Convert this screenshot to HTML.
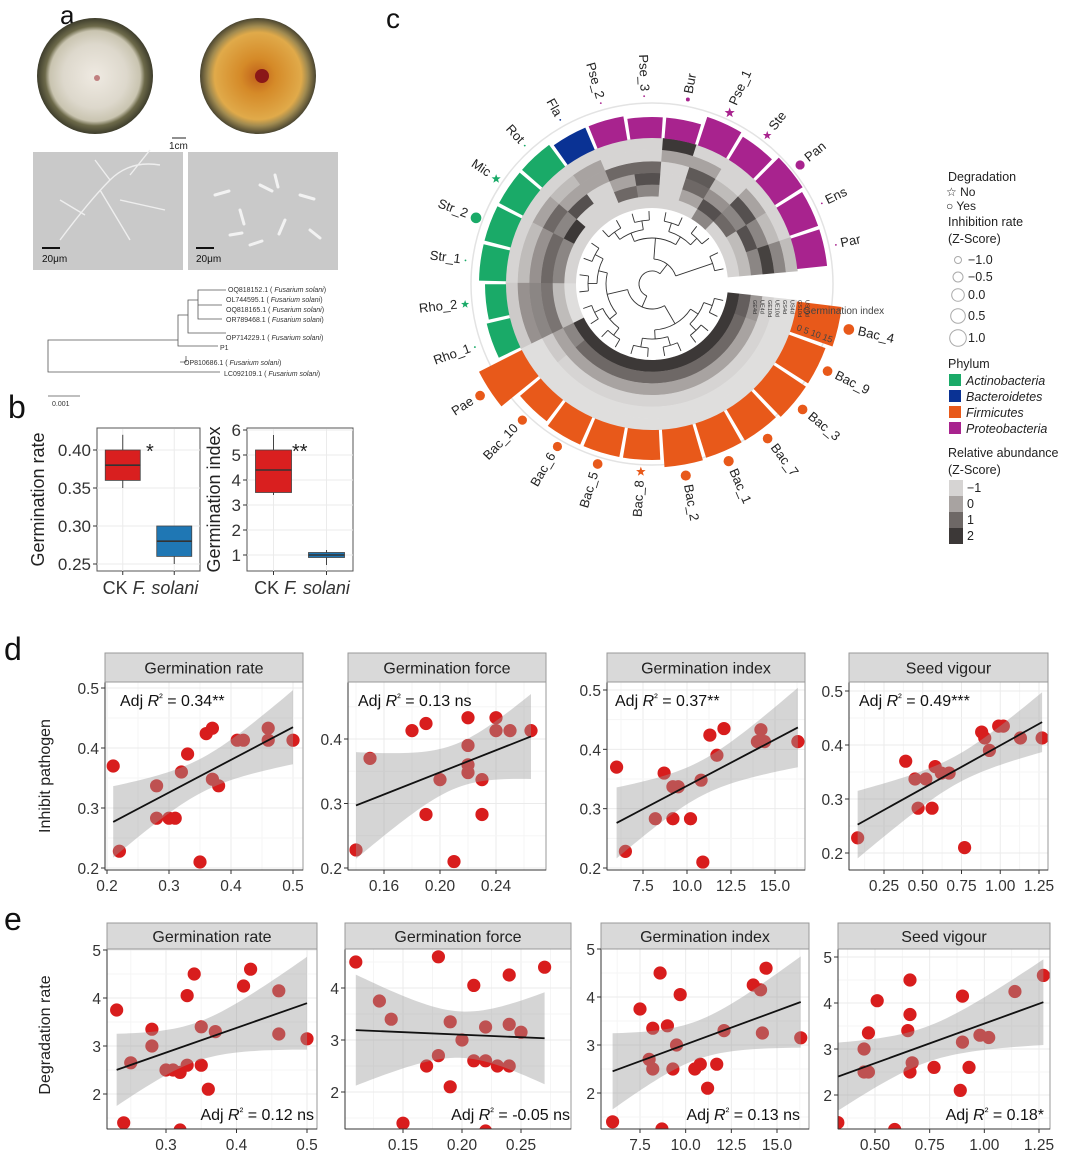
<!DOCTYPE html>
<html><head><meta charset="utf-8"><style>
html,body{margin:0;padding:0;background:#fff}
svg{display:block;font-family:"Liberation Sans",Arial,sans-serif}
</style></head><body>
<svg id="fig" width="1070" height="1168" viewBox="0 0 1070 1168" xmlns="http://www.w3.org/2000/svg">
<defs>
<radialGradient id="dish1" cx="50%" cy="50%" r="50%">
<stop offset="0" stop-color="#efeae2"/><stop offset="0.55" stop-color="#ddd8cc"/><stop offset="0.78" stop-color="#c9c4b0"/><stop offset="0.86" stop-color="#6d6a4a"/><stop offset="1" stop-color="#3e3d2c"/></radialGradient>
<radialGradient id="dish2" cx="50%" cy="50%" r="50%">
<stop offset="0" stop-color="#c0601a"/><stop offset="0.3" stop-color="#d58a28"/><stop offset="0.75" stop-color="#e0aa4a"/><stop offset="0.86" stop-color="#a08a50"/><stop offset="1" stop-color="#4a4530"/></radialGradient>
</defs>
<!-- panel a -->
<g>
<text x="60" y="24" font-size="26" fill="#111">a</text>
<circle cx="95" cy="76" r="58" fill="url(#dish1)"/>
<circle cx="97" cy="78" r="3" fill="#c08080"/>
<circle cx="258" cy="76" r="58" fill="url(#dish2)"/>
<circle cx="262" cy="76" r="7" fill="#8a1818"/>
<line x1="172" y1="138" x2="186" y2="138" stroke="#222" stroke-width="1"/>
<text x="169" y="149" font-size="10" fill="#222">1cm</text>
<rect x="33" y="152" width="150" height="118" fill="#c9c9c9"/>
<path d="M60 240 Q90 200 110 180 T160 165 M100 190 L130 240 M110 180 L95 160 M120 200 L165 210 M85 215 L60 200 M130 175 L150 150" stroke="#eee" stroke-width="1.4" fill="none"/>
<rect x="188" y="152" width="150" height="118" fill="#c9c9c9"/>
<path d="M215 195 l14 -4 M240 210 l4 14 M260 185 l12 6 M285 220 l-6 14 M300 195 l14 4 M230 235 l12 -2 M275 175 l3 12 M310 230 l10 8 M250 245 l12 -4" stroke="#f2f2f2" stroke-width="3" stroke-linecap="round"/>
<line x1="42" y1="248" x2="60" y2="248" stroke="#111" stroke-width="2"/>
<text x="42" y="262" font-size="10" fill="#111">20μm</text>
<line x1="196" y1="248" x2="214" y2="248" stroke="#111" stroke-width="2"/>
<text x="196" y="262" font-size="10" fill="#111">20μm</text>
<g stroke="#555" stroke-width="0.8" fill="none">
<path d="M48 356 V340 H178 M48 356 V372 H220 M178 340 V315 H188 M178 340 V346 H218 M188 315 V300 H198 M188 315 V333 H226 M198 300 V290 H226 M198 300 V305 H222 M198 300 V319 H222 M186 356 V362 H180"/>
</g>
<g font-size="7" fill="#333">
<text x="228" y="292">OQ818152.1 ( <tspan font-style="italic">Fusarium solani</tspan>)</text>
<text x="226" y="302">OL744595.1 ( <tspan font-style="italic">Fusarium solani</tspan>)</text>
<text x="226" y="312">OQ818165.1 ( <tspan font-style="italic">Fusarium solani</tspan>)</text>
<text x="226" y="322">OR789468.1 ( <tspan font-style="italic">Fusarium solani</tspan>)</text>
<text x="226" y="340">OP714229.1 ( <tspan font-style="italic">Fusarium solani</tspan>)</text>
<text x="220" y="350">P1</text>
<text x="184" y="365">OP810686.1 ( <tspan font-style="italic">Fusarium solani</tspan>)</text>
<text x="224" y="376">LC092109.1 ( <tspan font-style="italic">Fusarium solani</tspan>)</text>
</g>
<line x1="48" y1="396" x2="80" y2="396" stroke="#555" stroke-width="0.8"/>
<text x="52" y="406" font-size="7" fill="#333">0.001</text>
</g>
<g id="panelB"></g>
<g id="panelC"></g>
<g id="panelD"></g>
<g id="panelE"></g>
</svg>
<script>
// ---------- Panel b data ----------
const bGroups = ["CK", "F. solani"];
const bRateStats = [[0.35,0.36,0.38,0.40,0.42],[0.25,0.26,0.28,0.30,0.30]];
const bIndexStats = [[3.4,3.5,4.4,5.2,5.8],[0.6,0.9,1.0,1.1,1.2]];
const bRateTicks = [0.25,0.30,0.35,0.40];
const bIndexTicks = [1,2,3,4,5,6];

// ---------- Panel c data ----------
const cTaxa = ["Bac_4","Bac_9","Bac_3","Bac_7","Bac_1","Bac_2","Bac_8","Bac_5","Bac_6","Bac_10","Pae","Rho_1","Rho_2","Str_1","Str_2","Mic","Rot","Fla","Pse_2","Pse_3","Bur","Pse_1","Ste","Pan","Ens","Par"];
const cPhylum = ["F","F","F","F","F","F","F","F","F","F","F","A","A","A","A","A","A","B","P","P","P","P","P","P","P","P"];
const cGermIndex = [15,13,13,12,12,12.5,10,10,10,9,16,8,7,9,9,9,9,8,8,7,7,10,9,11,10,10];
const cDegradNo = ["Rho_2","Mic","Pse_1","Ste","Bac_8"];
const cInhibition = [0.8,0.6,0.6,0.6,0.7,0.7,0.5,0.6,0.5,0.5,0.6,-1.2,0.2,-1.2,0.8,0.4,-1.2,-1.2,-1.2,-1.2,-0.6,0.6,0.3,0.5,-1.2,-1.2];
const cHeat = [
[2,1.2,0.2,-1,-1.2,-1.2],[2,1,0,-1,-1.2,-1.2],[2,1,0,-1,-1.2,-1.2],[2,1,0,-1,-1.2,-1.2],[2,1,0,-1,-1.2,-1.2],[2,1,0,-1,-1.2,-1.2],
[2,1,0,-1,-1.2,-1.2],[2,1,0,-1,-1.2,-1.2],[2,1,0,-1,-1.2,-1.2],[2,1,0,-1,-1.2,-1.2],[2,0.5,0,-0.8,-1.2,-1.2],
[-1.2,-0.5,0.8,0.5,0.3,-0.8],[-1.2,-0.5,0.8,0.5,0.3,-0.8],[-1,0.5,1,0.3,-0.5,-1],[-1,0.5,1,0.3,-0.5,-1],[-1,2,0.5,1,0,-1],
[-1,-1,1.5,0,-0.5,-1],[-1,-1,-1,0,0,-1],[-1,1,0,1,-1,-1],[-1,0.5,1.5,1,-1,-1],[-1,-1,-1,-1,0,2],
[-1,0,1,1.3,0,-1],[0.5,1.5,0.3,-0.5,-1,-1],[-1,1,0.5,1.5,0,-1],[-1,-0.5,1.5,0.5,-0.5,-1],[-1,-0.5,0.5,1.8,0.5,-0.5]];

// ---------- Panel d data ----------
const dRateX = [0.21,0.22,0.28,0.28,0.30,0.31,0.32,0.33,0.35,0.36,0.37,0.37,0.38,0.41,0.42,0.46,0.46,0.50];
const dRateY = [0.37,0.228,0.337,0.283,0.283,0.283,0.36,0.39,0.21,0.424,0.433,0.348,0.337,0.413,0.413,0.433,0.413,0.413];
const dForceX = [0.14,0.15,0.18,0.19,0.19,0.20,0.21,0.22,0.22,0.22,0.22,0.23,0.23,0.24,0.24,0.25,0.265];
const dForceY = [0.228,0.37,0.413,0.424,0.283,0.337,0.21,0.433,0.39,0.36,0.348,0.337,0.283,0.433,0.413,0.413,0.413];
const dIndexX = [6.0,6.5,8.2,8.7,9.2,9.5,9.2,10.2,10.8,10.9,11.3,11.7,12.1,14.0,14.2,14.4,16.3];
const dIndexY = [0.37,0.228,0.283,0.36,0.337,0.337,0.283,0.283,0.348,0.21,0.424,0.39,0.435,0.413,0.433,0.413,0.413];
const dVigX = [0.08,0.39,0.45,0.47,0.52,0.56,0.58,0.62,0.67,0.77,0.88,0.90,0.93,0.99,1.02,1.13,1.27];
const dVigY = [0.228,0.37,0.337,0.283,0.337,0.283,0.36,0.348,0.348,0.21,0.424,0.413,0.39,0.435,0.435,0.413,0.413];
const dRateXTicks=[0.2,0.3,0.4,0.5], dForceXTicks=[0.16,0.20,0.24], dIndexXTicks=[7.5,10.0,12.5,15.0], dVigXTicks=[0.25,0.50,0.75,1.00,1.25];
const dYTicks=[0.2,0.3,0.4,0.5], dForceYTicks=[0.2,0.3,0.4];
const dLabels=["Adj R² = 0.34**","Adj R² = 0.13 ns","Adj R² = 0.37**","Adj R² = 0.49***"];

// ---------- Panel e data ----------
const eRateX=[0.23,0.24,0.25,0.28,0.28,0.30,0.31,0.32,0.32,0.33,0.33,0.34,0.35,0.35,0.36,0.37,0.41,0.42,0.46,0.46,0.50];
const eRateY=[3.75,1.4,2.65,3.35,3.0,2.5,2.5,2.45,1.25,2.6,4.05,4.5,3.4,2.6,2.1,3.3,4.25,4.6,4.15,3.25,3.15];
const eForceX=[0.11,0.13,0.14,0.15,0.17,0.18,0.18,0.19,0.19,0.20,0.21,0.21,0.22,0.22,0.22,0.23,0.24,0.24,0.24,0.25,0.27];
const eForceY=[4.5,3.75,3.4,1.4,2.5,4.6,2.7,3.35,2.1,3.0,4.05,2.6,2.6,3.25,1.25,2.5,4.25,2.5,3.3,3.15,4.4];
const eIndexX=[6.0,7.5,8.0,8.2,8.2,8.6,8.7,9.0,9.3,9.5,9.7,10.5,10.8,11.2,11.7,12.1,13.7,14.1,14.2,14.4,16.3];
const eIndexY=[1.4,3.75,2.7,3.35,2.5,4.5,1.25,3.4,2.5,3.0,4.05,2.5,2.6,2.1,2.6,3.3,4.25,4.15,3.25,4.6,3.15];
const eVigX=[0.33,0.45,0.45,0.47,0.47,0.51,0.59,0.65,0.66,0.66,0.66,0.67,0.77,0.89,0.90,0.90,0.93,0.98,1.02,1.14,1.27];
const eVigY=[1.4,3.0,2.5,3.35,2.5,4.05,1.25,3.4,4.5,3.75,2.5,2.7,2.6,2.1,3.15,4.15,2.6,3.3,3.25,4.25,4.6];
const eRateXTicks=[0.3,0.4,0.5], eForceXTicks=[0.15,0.20,0.25], eIndexXTicks=[7.5,10.0,12.5,15.0], eVigXTicks=[0.50,0.75,1.00,1.25];
const eYTicks=[2,3,4,5], eForceYTicks=[2,3,4];
const eLabels=["Adj R² = 0.12 ns","Adj R² = -0.05 ns","Adj R² = 0.13 ns","Adj R² = 0.18*"];

const NS="http://www.w3.org/2000/svg";
function mk(parent,tag,attrs,txt){const e=document.createElementNS(NS,tag);for(const k in attrs)e.setAttribute(k,attrs[k]);if(txt!==undefined)e.textContent=txt;parent.appendChild(e);return e;}
function lin(a,b){return v=>a[1]+(v-a[0])*(b[1]-a[1])/(b[0]-a[0]);}
function fmt(v,t){const s=String(t);const d=s.includes('.')?s.split('.')[1].length:0;return v.toFixed(d);}

// ---------- Panel b ----------
(function(){
const g=document.getElementById('panelB');
const lbl=mk(g,'text',{x:8,y:418,'font-size':32,fill:'#111'},'b');

function box(P,stats,ticks,yTitle,star,fills){
  const sy=lin(P.ya,P.yb);
  const gg=mk(g,'g',{});
  
  mk(gg,'rect',{x:P.l,y:P.t,width:P.r-P.l,height:P.b-P.t,fill:'#fff',stroke:'#555','stroke-width':1});
  ticks.forEach(t=>{const y=sy(t);
    mk(gg,'line',{x1:P.l,x2:P.r,y1:y,y2:y,stroke:'#ebebeb'});
    mk(gg,'line',{x1:P.l-4,x2:P.l,y1:y,y2:y,stroke:'#333'});
    const tl=mk(gg,'text',{x:P.l-6,y:y+6,'font-size':17,'text-anchor':'end',fill:'#333'},fmt(t,P.tfmt));
    });
  const w=(P.r-P.l);
  stats.forEach((s,i)=>{const cx=P.l+w*(0.25+0.5*i), bw=w*0.34;
    mk(gg,'line',{x1:cx,x2:cx,y1:P.t+1,y2:P.b,stroke:'#ebebeb'});
    const wl=mk(gg,'line',{x1:cx,x2:cx,y1:sy(s[0]),y2:sy(s[4]),stroke:'#444'});
    const rb=mk(gg,'rect',{x:cx-bw/2,y:sy(s[3]),width:bw,height:sy(s[1])-sy(s[3]),fill:fills[i],stroke:'#444','stroke-width':0.8});
    
    mk(gg,'line',{x1:cx-bw/2,x2:cx+bw/2,y1:sy(s[2]),y2:sy(s[2]),stroke:'#333','stroke-width':1.6});
    mk(gg,'line',{x1:cx,x2:cx,y1:P.b,y2:P.b+4,stroke:'#333'});});
  const xl=mk(gg,'text',{x:(P.l+P.r)/2+2,y:P.b+23,'font-size':18,'text-anchor':'middle',fill:'#333'});
  
  mk(xl,'tspan',{},bGroups[0]+' ');mk(xl,'tspan',{'font-style':'italic'},bGroups[1]);
  const yt=mk(gg,'text',{transform:`translate(${P.yx},${(P.t+P.b)/2}) rotate(-90)`,'font-size':18,'text-anchor':'middle',fill:'#222'},yTitle);
  
  const st=mk(gg,'text',{x:P.sx,y:P.t+30,'font-size':20,fill:'#222'},star);
  
}
box({name:'boxplot-germination-rate',l:97,r:200,t:428,b:571,ya:[0.40,450],yb:[0.25,564],tfmt:'0.00',yx:44,sx:146},bRateStats,bRateTicks,'Germination rate','*',['#d91f1f','#1f77b4']);
box({name:'boxplot-germination-index',l:247,r:353,t:428,b:571,ya:[6,430],yb:[1,555],tfmt:'1',yx:220,sx:292},bIndexStats,bIndexTicks,'Germination index','**',['#d91f1f','#1f77b4']);
})();

// ---------- Panel c ----------
(function(){
const g=document.getElementById('panelC');
const lb=mk(g,'text',{x:386,y:28,'font-size':28,fill:'#111'},'c');

const cx=652, cy=284, rIn=76, rHeatOut=146, step=13.4, a0=13;
const phyCol={A:'#1aaa68',B:'#0a3294',F:'#e8591a',P:'#a8238e'};
const rad=d=>d*Math.PI/180;
const pt=(r,a)=>[cx+r*Math.cos(rad(a)),cy+r*Math.sin(rad(a))];
function sector(r1,r2,a1,a2){const p1=pt(r2,a1),p2=pt(r2,a2),p3=pt(r1,a2),p4=pt(r1,a1);const lg=(a2-a1)>180?1:0;
 return `M${p1[0]},${p1[1]} A${r2},${r2} 0 ${lg} 1 ${p2[0]},${p2[1]} L${p3[0]},${p3[1]} A${r1},${r1} 0 ${lg} 0 ${p4[0]},${p4[1]}Z`;}
function gray(v){const stops=[[-1.5,[236,236,236]],[-1,[214,212,211]],[0,[168,163,161]],[1,[110,104,102]],[2,[60,56,55]]];
 v=Math.max(-1.5,Math.min(2,v));for(let i=0;i<stops.length-1;i++){if(v<=stops[i+1][0]){const t=(v-stops[i][0])/(stops[i+1][0]-stops[i][0]);const c=stops[i][1].map((x,k)=>Math.round(x+t*(stops[i+1][1][k]-x)));return `rgb(${c})`;}}return 'rgb(60,56,55)';}
// outer circle
const oc=mk(g,'circle',{cx:cx,cy:cy,r:181,fill:'none',stroke:'#e3e3e3','stroke-width':1.5});

const ringW=(rHeatOut-rIn)/6;
cTaxa.forEach((name,i)=>{
 const ac=a0+i*step, a1=ac-step/2, a2=ac+step/2;
 cHeat[i].forEach((v,k)=>{const p=mk(g,'path',{d:sector(rIn+k*ringW,rIn+(k+1)*ringW+0.3,a1,a2+0.3),fill:gray(v)});
   });
 const rOut=rHeatOut+cGermIndex[i]*3;
 const bar=mk(g,'path',{d:sector(rHeatOut,rOut,a1+0.6,a2-0.6),fill:phyCol[cPhylum[i]]});
 
 const rm=Math.max(188,rOut+11);const mp=pt(rm,ac);
 const sz=Math.max(0.9,3.4+2.4*cInhibition[i]);
 if(cDegradNo.includes(name)){
   let d='';for(let k=0;k<10;k++){const rr=k%2?sz*0.45:sz*1.1;const aa=-90+k*36;d+=(k?'L':'M')+(mp[0]+rr*Math.cos(rad(aa)))+','+(mp[1]+rr*Math.sin(rad(aa)));}
   const s=mk(g,'path',{d:d+'Z',fill:phyCol[cPhylum[i]]});
 } else {const c=mk(g,'circle',{cx:mp[0],cy:mp[1],r:sz,fill:phyCol[cPhylum[i]]});}
 const rl=rm+sz+4;const lp=pt(rl,ac);
 let norm=((ac%360)+360)%360;const flip=norm>90&&norm<270;
 const t=mk(g,'text',{x:lp[0],y:lp[1],'font-size':13,fill:'#222','dominant-baseline':'middle','text-anchor':flip?'end':'start',transform:`rotate(${flip?ac-180:ac},${lp[0]},${lp[1]})`},name);
 
});
// dendrogram
const tree=mk(g,'g',{stroke:'#333','stroke-width':0.9,fill:'none'});

let nodes=cTaxa.map((n,i)=>({a:a0+i*step,r:rIn-3}));
let level=0;
while(nodes.length>1){const nr=(rIn-3)-(level+1)*(level<3?9:12);const nx=[];
 for(let i=0;i<nodes.length;i+=2){if(i+1<nodes.length){const A=nodes[i],B=nodes[i+1];
   [A,B].forEach(n=>{const p1=pt(n.r,n.a),p2=pt(Math.max(nr,4),n.a);mk(tree,'path',{d:`M${p1[0]},${p1[1]}L${p2[0]},${p2[1]}`});});
   const rr=Math.max(nr,4);const q1=pt(rr,A.a),q2=pt(rr,B.a);const lg=(B.a-A.a)>180?1:0;
   mk(tree,'path',{d:`M${q1[0]},${q1[1]}A${rr},${rr} 0 ${lg} 1 ${q2[0]},${q2[1]}`});
   nx.push({a:(A.a+B.a)/2,r:rr});} else nx.push(nodes[i]);}
 nodes=nx;level++;}
// center label
const gl=mk(g,'text',{x:803,y:314,'font-size':10,fill:'#444'},'Germination index');

const gt=mk(g,'text',{x:796,y:330,'font-size':9,fill:'#444',transform:'rotate(20,796,330)'},'0  5  10 15');

["GE4d","UE4d","GE10d","UE10d","GS4d","US4d","GS10d","US10d"].forEach((s,k)=>{const x=753+k*7.5;const t=mk(g,'text',{x:x,y:300,'font-size':5.5,fill:'#333',transform:`rotate(90,${x},300)`},s);});
// legend
const L=mk(g,'g',{'font-size':12.5,fill:'#222'});
const lt=(x,y,s,it)=>{const t=mk(L,'text',{x:x,y:y,'font-style':it?'italic':'normal'},s);return t;};
lt(948,181,'Degradation');lt(946,196,'☆ No').setAttribute('font-size','12');lt(946,210,'○ Yes').setAttribute('font-size','12');
lt(948,226,'Inhibition rate');lt(948,243,'(Z-Score)');
[['−1.0',264,3.5],['−0.5',281,5],[' 0.0',299,6.3],[' 0.5',320,7.3],[' 1.0',342,8.3]].forEach(([s,y,r])=>{mk(L,'circle',{cx:958,cy:y-4,r:r,fill:'none',stroke:'#aaa'});lt(968,y,s);});
lt(948,368,'Phylum');
[['Actinobacteria','A'],['Bacteroidetes','B'],['Firmicutes','F'],['Proteobacteria','P']].forEach(([s,k],j)=>{const y=385+j*16;const r=mk(L,'rect',{x:949,y:y-11,width:12,height:12,fill:phyCol[k]});lt(966,y,s,true);});
lt(948,457,'Relative abundance');lt(948,474,'(Z-Score)');
[-1,0,1,2].forEach((v,j)=>{const y=480+j*16;mk(L,'rect',{x:949,y:y,width:14,height:16,fill:gray(v)});lt(967,y+12,v===-1?'−1':String(v));});
})();

// ---------- scatter panels ----------
function regress(xs,ys){const n=xs.length;const mx=xs.reduce((a,b)=>a+b)/n,my=ys.reduce((a,b)=>a+b)/n;
 let sxx=0,sxy=0;xs.forEach((x,i)=>{sxx+=(x-mx)**2;sxy+=(x-mx)*(ys[i]-my);});const b=sxy/sxx,a=my-b*mx;
 let sse=0;xs.forEach((x,i)=>{sse+=(ys[i]-a-b*x)**2;});const s=Math.sqrt(sse/(n-2));return {a,b,mx,sxx,s,n};}
function scatter(parent,P,xs,ys,xt,yt,label){
 const sx=lin(P.xa,P.xb), sy=lin(P.ya,P.yb);
 const g=mk(parent,'g',{});
 const cid='clip'+P.name;const cp=mk(g,'clipPath',{id:cid});mk(cp,'rect',{x:P.l,y:P.t,width:P.r-P.l,height:P.b-P.t});
 mk(g,'rect',{x:P.l,y:P.t,width:P.r-P.l,height:P.b-P.t,fill:'#fff'});
 const gr=mk(g,'g',{'clip-path':`url(#${cid})`});
 const mid=(arr,f)=>{for(let i=0;i<arr.length-1;i++){const v=f((arr[i]+arr[i+1])/2);mk(gr,'line',P.h?{x1:P.l,x2:P.r,y1:v,y2:v,stroke:'#f3f3f3'}:{});}};
 const dx=xt[1]-xt[0],dy=yt[1]-yt[0];
 for(let v=xt[0]-dx;v<=xt[xt.length-1]+dx+1e-9;v+=dx/2){const x=sx(v);mk(gr,'line',{x1:x,x2:x,y1:P.t,y2:P.b,stroke:Math.abs((v-xt[0])/dx-Math.round((v-xt[0])/dx))<1e-6?'#ebebeb':'#f5f5f5'});}
 for(let v=yt[0]-dy;v<=yt[yt.length-1]+dy+1e-9;v+=dy/2){const y=sy(v);mk(gr,'line',{x1:P.l,x2:P.r,y1:y,y2:y,stroke:Math.abs((v-yt[0])/dy-Math.round((v-yt[0])/dy))<1e-6?'#ebebeb':'#f5f5f5'});}
 xs.forEach((x,i)=>{const c=mk(gr,'circle',{cx:sx(x),cy:sy(ys[i]),r:6.6,fill:'#d81d1d'});});
 const R=regress(xs,ys);const xmin=Math.min(...xs),xmax=Math.max(...xs);const up=[],lo=[];
 for(let k=0;k<=40;k++){const x=xmin+(xmax-xmin)*k/40;const yh=R.a+R.b*x;const se=R.s*Math.sqrt(1/R.n+(x-R.mx)**2/R.sxx);up.push([sx(x),sy(yh+2.11*se)]);lo.push([sx(x),sy(yh-2.11*se)]);}
 const band=mk(gr,'path',{d:'M'+up.map(p=>p.join(',')).join('L')+'L'+lo.reverse().map(p=>p.join(',')).join('L')+'Z',fill:'#9a9a9a','fill-opacity':0.42});
 
 const ln=mk(gr,'line',{x1:sx(xmin),y1:sy(R.a+R.b*xmin),x2:sx(xmax),y2:sy(R.a+R.b*xmax),stroke:'#111','stroke-width':1.8});
 
 mk(g,'rect',{x:P.l,y:P.t,width:P.r-P.l,height:P.b-P.t,fill:'none',stroke:'#9a9a9a'});
 mk(g,'line',{x1:P.l,x2:P.l,y1:P.t,y2:P.b,stroke:'#333'});mk(g,'line',{x1:P.l,x2:P.r,y1:P.b,y2:P.b,stroke:'#333'});
 const st=mk(g,'rect',{x:P.l,y:P.st,width:P.r-P.l,height:P.t-P.st,fill:'#d9d9d9',stroke:'#999'});
 
 const stt=mk(g,'text',{x:(P.l+P.r)/2,y:(P.st+P.t)/2+6,'font-size':16,'text-anchor':'middle',fill:'#222'},P.title);
 
 xt.forEach(t=>{const x=sx(t);mk(g,'line',{x1:x,x2:x,y1:P.b,y2:P.b+4,stroke:'#333'});
  const tl=mk(g,'text',{x:x,y:P.b+21,'font-size':15.5,'text-anchor':'middle',fill:'#333'},fmt(t,P.xf));});
 yt.forEach(t=>{const y=sy(t);mk(g,'line',{x1:P.l-4,x2:P.l,y1:y,y2:y,stroke:'#333'});
  const tl=mk(g,'text',{x:P.l-6,y:y+6,'font-size':15.5,'text-anchor':'end',fill:'#333'},fmt(t,P.yf));});
 const parts=label.split('R²');
 const an=mk(g,'text',{x:P.ax,y:P.ay,'font-size':16,'text-anchor':P.aa,fill:'#111'});
 mk(an,'tspan',{},parts[0]);mk(an,'tspan',{'font-style':'italic'},'R');mk(an,'tspan',{'font-size':11,dy:-5},'²');mk(an,'tspan',{dy:5},parts[1]);
}
(function(){
const g=document.getElementById('panelD');
const l=mk(g,'text',{x:4,y:660,'font-size':32,fill:'#111'},'d');
const yt=mk(g,'text',{transform:'translate(50,776) rotate(-90)','font-size':16,'text-anchor':'middle',fill:'#222'},'Inhibit pathogen');

const T=['Germination rate','Germination force','Germination index','Seed vigour'];
scatter(g,{name:'scatter-d-rate',l:105,r:303,st:653,t:682,b:870,xa:[0.2,107],xb:[0.5,293],ya:[0.5,688],yb:[0.2,868],xf:'0.1',yf:'0.1',title:T[0],ax:120,ay:706,aa:'start'},dRateX,dRateY,dRateXTicks,dYTicks,dLabels[0]);
scatter(g,{name:'scatter-d-force',l:348,r:546,st:653,t:682,b:870,xa:[0.16,384],xb:[0.24,496],ya:[0.4,739],yb:[0.2,868],xf:'0.01',yf:'0.1',title:T[1],ax:358,ay:706,aa:'start'},dForceX,dForceY,dForceXTicks,dForceYTicks,dLabels[1]);
scatter(g,{name:'scatter-d-index',l:607,r:805,st:653,t:682,b:870,xa:[7.5,643],xb:[15.0,775],ya:[0.5,690],yb:[0.2,868],xf:'0.1',yf:'0.1',title:T[2],ax:615,ay:706,aa:'start'},dIndexX,dIndexY,dIndexXTicks,dYTicks,dLabels[2]);
scatter(g,{name:'scatter-d-vigour',l:849,r:1048,st:653,t:682,b:870,xa:[0.25,884],xb:[1.25,1039],ya:[0.5,691],yb:[0.2,853],xf:'0.01',yf:'0.1',title:T[3],ax:859,ay:706,aa:'start'},dVigX,dVigY,dVigXTicks,dYTicks,dLabels[3]);
})();
(function(){
const g=document.getElementById('panelE');
const l=mk(g,'text',{x:4,y:930,'font-size':32,fill:'#111'},'e');
const yt=mk(g,'text',{transform:'translate(50,1035) rotate(-90)','font-size':16,'text-anchor':'middle',fill:'#222'},'Degradation rate');

const T=['Germination rate','Germination force','Germination index','Seed vigour'];
scatter(g,{name:'scatter-e-rate',l:107,r:317,st:923,t:949,b:1129,xa:[0.3,166],xb:[0.5,307],ya:[5,950],yb:[2,1094],xf:'0.1',yf:'1',title:T[0],ax:314,ay:1120,aa:'end'},eRateX,eRateY,eRateXTicks,eYTicks,eLabels[0]);
scatter(g,{name:'scatter-e-force',l:345,r:571,st:923,t:949,b:1129,xa:[0.15,403],xb:[0.20,462],ya:[4,988],yb:[2,1092],xf:'0.01',yf:'1',title:T[1],ax:570,ay:1120,aa:'end'},eForceX,eForceY,eForceXTicks,eForceYTicks,eLabels[1]);
scatter(g,{name:'scatter-e-index',l:601,r:809,st:923,t:949,b:1129,xa:[7.5,640],xb:[15.0,777],ya:[5,949],yb:[2,1093],xf:'0.1',yf:'1',title:T[2],ax:800,ay:1120,aa:'end'},eIndexX,eIndexY,eIndexXTicks,eYTicks,eLabels[2]);
scatter(g,{name:'scatter-e-vigour',l:838,r:1050,st:923,t:949,b:1129,xa:[0.50,875],xb:[1.25,1039],ya:[5,957],yb:[2,1095],xf:'0.01',yf:'1',title:T[3],ax:1044,ay:1120,aa:'end'},eVigX,eVigY,eVigXTicks,eYTicks,eLabels[3]);
})();
</script>
</body></html>
